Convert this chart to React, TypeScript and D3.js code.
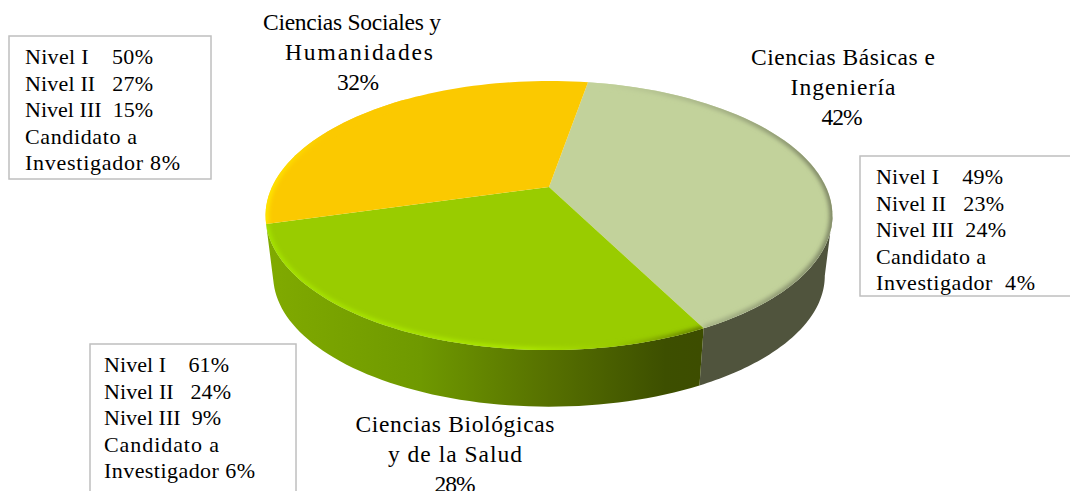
import React from "react";
import * as d3 from "d3";

const W = 1070, H = 491;
const categories = ["Ciencias Básicas e Ingeniería", "Ciencias Biológicas y de la Salud", "Ciencias Sociales y Humanidades"];
// Slice sizes as drawn in the picture (the printed labels read 42/28/32).
const sliceShares = [39.8, 28.1, 32.1];
const sliceColors = ["#c2d29b", "#99cc00", "#fbc900"];
const catLabels = [
  ["Ciencias Básicas e", "Ingeniería", "42%"],
  ["Ciencias Biológicas", "y de la Salud", "28%"],
  ["Ciencias Sociales y", "Humanidades", "32%"],
];
const catLabelWidths = [[184, 105, 41], [199, 134, 41], [178, 148, 42]];
const catLabelCenters = [[843, 843, 842], [455, 455, 455], [352, 359, 358]];
const catLabelY = [65, 432, 30];
const boxLines = [
  ["Nivel I    49%", "Nivel II   23%", "Nivel III  24%", "Candidato a", "Investigador  4%"],
  ["Nivel I    61%", "Nivel II   24%", "Nivel III  9%", "Candidato a", "Investigador 6%"],
  ["Nivel I    50%", "Nivel II   27%", "Nivel III  15%", "Candidato a", "Investigador 8%"],
];
const boxLineWidths = [
  [127, 128, 130, 110, 159],
  [125, 127, 117, 115, 151],
  [128, 128, 128, 112, 155],
];
const boxRect = [
  { x: 860, y: 156, w: 215, h: 140, tx: 876, ty: 184 },
  { x: 90, y: 344, w: 206, h: 155, tx: 104, ty: 372 },
  { x: 9, y: 36, w: 202, h: 143, tx: 25, ty: 64 },
];

const FONT = "'Liberation Serif', serif";
const START = (9.8 * Math.PI) / 180;
const P = -0.212, CX = 549, Y0 = 187, R = 277, S = 128.5;
const BOT = 0.973, Y0B = 248;

// Projection of the disc (angle clockwise from the back) onto the page.
const project = (a: number, scale = 1, y0 = Y0): [number, number] => {
  const u = Math.sin(a), v = -Math.cos(a), w = 1 + P * v;
  return [CX + (scale * R * u) / w, y0 + (scale * S * v) / w];
};
const arcPts = (a0: number, a1: number, scale = 1, y0 = Y0) =>
  d3.range(0, 1.0001, 1 / 60).map((t) => project(a0 + (a1 - a0) * t, scale, y0));
const line = d3.line<[number, number]>();

const pieGen = d3.pie<number>().sort(null).startAngle(START).endAngle(START + 2 * Math.PI);
const slices = pieGen(sliceShares);
const RIGHT = Math.acos(P);

const slicePath = (s: d3.PieArcDatum<number>) =>
  line([[CX, Y0], ...arcPts(s.startAngle, s.endAngle)])! + "Z";
const wallPath = (a0: number, a1: number) =>
  line([...arcPts(a0, a1), ...arcPts(a0, a1, BOT, Y0B).reverse()])! + "Z";

export default function App() {
  const [kh, gr, ye] = slices;
  return (
    <svg width={W} height={H} viewBox={`0 0 ${W} ${H}`}
      style={{ position: "absolute", left: 0, top: 0, background: "#fff", fontFamily: FONT }}>
      <defs>
        <linearGradient id="gw" gradientUnits="userSpaceOnUse" x1={270} x2={700} y1={0} y2={0}>
          <stop offset="0" stopColor="#80aa00" />
          <stop offset="0.35" stopColor="#6f9900" />
          <stop offset="0.65" stopColor="#567000" />
          <stop offset="0.92" stopColor="#3d4f00" />
          <stop offset="1" stopColor="#3d4d00" />
        </linearGradient>
        <linearGradient id="gr" gradientUnits="userSpaceOnUse" x1={267} x2={703} y1={0} y2={0}>
          <stop offset="0" stopColor="#a6e400" />
          <stop offset="0.6" stopColor="#aeea00" />
          <stop offset="0.8" stopColor="#98c800" />
          <stop offset="1" stopColor="#5a7000" />
        </linearGradient>
        <linearGradient id="kr" gradientUnits="userSpaceOnUse" x1={600} x2={832} y1={0} y2={0}>
          <stop offset="0" stopColor="#c2d29b" />
          <stop offset="0.5" stopColor="#a3af84" />
          <stop offset="1" stopColor="#7a8262" />
        </linearGradient>
        <linearGradient id="yr" gradientUnits="userSpaceOnUse" x1={265} x2={330} y1={0} y2={0}>
          <stop offset="0" stopColor="#ffe800" />
          <stop offset="1" stopColor="#fbc900" />
        </linearGradient>
        <filter id="bl" x="-5%" y="-5%" width="110%" height="110%">
          <feGaussianBlur stdDeviation="2.2" />
        </filter>
        {slices.map((s, i) => (
          <clipPath id={`c${i}`} key={i}><path d={slicePath(s)} /></clipPath>
        ))}
      </defs>

      <path d={wallPath(RIGHT, kh.endAngle)} fill="#50543d" />
      <path d={wallPath(gr.startAngle, gr.endAngle)} fill="url(#gw)" />

      {slices.map((s, i) => (
        <path key={categories[i]} d={slicePath(s)} fill={sliceColors[i]} />
      ))}

      <g clipPath="url(#c0)">
        <path d={line(arcPts(kh.startAngle, kh.endAngle))!} fill="none" stroke="url(#kr)" strokeWidth={6} filter="url(#bl)" />
      </g>
      <g clipPath="url(#c1)">
        <path d={line(arcPts(gr.startAngle, gr.endAngle))!} fill="none" stroke="url(#gr)" strokeWidth={5} filter="url(#bl)" />
      </g>
      <g clipPath="url(#c2)">
        <path d={line(arcPts(ye.startAngle, ye.startAngle + 1.2))!} fill="none" stroke="url(#yr)" strokeWidth={6} filter="url(#bl)" />
      </g>

      {boxRect.map((b, i) => (
        <g key={i}>
          <rect x={b.x} y={b.y} width={b.w} height={b.h} fill="#fff" stroke="#bfbfbf" strokeWidth={1.5} />
          {boxLines[i].map((t, j) => (
            <text key={j} x={b.tx} y={b.ty + j * 26.6} fontSize={22} fill="#000" textLength={boxLineWidths[i][j]} lengthAdjust="spacing" style={{ whiteSpace: "pre" }}>{t}</text>
          ))}
        </g>
      ))}

      {catLabels.map((lines, i) =>
        lines.map((t, j) => (
          <text key={t} x={catLabelCenters[i][j]} y={catLabelY[i] + j * 30} fontSize={23.5} fill="#000" textAnchor="middle" textLength={catLabelWidths[i][j]} lengthAdjust="spacing">{t}</text>
        ))
      )}
    </svg>
  );
}
